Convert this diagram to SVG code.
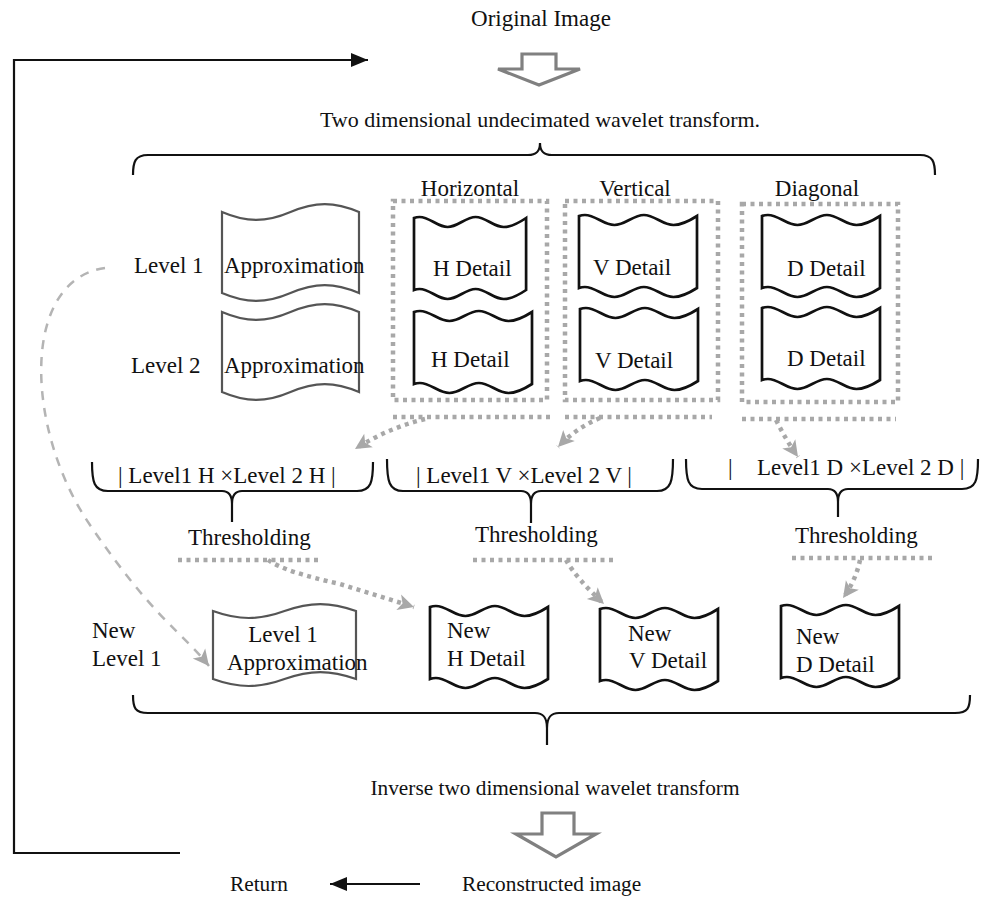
<svg xmlns="http://www.w3.org/2000/svg" xmlns:xlink="http://www.w3.org/1999/xlink" width="998" height="902" viewBox="0 0 998 902">
<style>
text{font-family:"Liberation Serif","Times New Roman",serif;font-size:23px;fill:#111}
.mid{text-anchor:middle}
.sm{font-size:22px}
.xs{font-size:21.3px}
.blk{fill:none;stroke:#111;stroke-width:2.2}
.doc{fill:#fff;stroke:#111;stroke-width:2.7}
.tape{fill:#fff;stroke:#555;stroke-width:2.2}
.dot{fill:none;stroke:#a8a8a8;stroke-width:4.5;stroke-dasharray:4 4.5}
.dash{fill:none;stroke:#b4b4b4;stroke-width:2.5;stroke-dasharray:9 8}
.hollow{fill:#fff;stroke:#808080;stroke-width:3.2;stroke-linejoin:miter}
</style>
<defs>
<path id="doc" vector-effect="non-scaling-stroke" d="M0,-4 C2,-4.7 4,-5 5.9,-5 C16.6,-5 24.7,5 35.4,5 C46.1,5 54.2,-5 64.9,-5 C75.6,-5 83.7,5 94.4,5 C103,5 111,0.5 118,-4 L118,68 C111,72.5 103,77 94.4,77 C83.7,77 75.6,67 64.9,67 C54.2,67 46.1,77 35.4,77 C24.7,77 16.6,67 5.9,67 C4,67 2,67.3 0,68 Z"/>
<marker id="ga" markerUnits="userSpaceOnUse" markerWidth="20" markerHeight="20" viewBox="0 0 20 20" refX="18" refY="10" orient="auto">
<path d="M2,2 L18,10 L2,18 L6,10 Z" fill="#a8a8a8"/>
</marker>
<marker id="ba" markerUnits="userSpaceOnUse" markerWidth="18" markerHeight="16" viewBox="0 0 18 16" refX="17" refY="8" orient="auto">
<path d="M0,1 L17,8 L0,15 Z" fill="#111"/>
</marker>
</defs>

<g id="connectors">
<!-- loop back -->
<path class="blk" d="M180,853 L14,853 L14,60 L368,60" marker-end="url(#ba)"/>
<path class="blk" d="M420,884 L330,884" marker-end="url(#ba)"/>
<!-- hollow arrows -->
<path class="hollow" d="M522,54 L556,54 L556,69 L580,69 L539,85 L498,69 L522,69 Z"/>
<path class="hollow" d="M542,813 L574,813 L574,834 L596,834 L556,857 L516,834 L542,834 Z"/>
<!-- top brace -->
<path class="blk" d="M133,175 C133,162 135,155 148,155 L528,155 C536,155 540,152 540,143 C540,152 544,155 552,155 L920,155 C933,155 935,162 935,175"/>
<!-- bottom brace -->
<path class="blk" d="M133,695 C133,708 135,713 148,713 L535,713 C543,713 547,717 547,728 L547,745 M547,728 C547,717 551,713 559,713 L955,713 C968,713 970,708 970,695"/>
<!-- level braces -->
<path class="blk" d="M92,462 C92,482 94,491 108,491 L222,491 C229,491 232,495 232,504 L232,522 M232,504 C232,495 235,491 242,491 L357,491 C371,491 373,482 373,462"/>
<path class="blk" d="M387,459 C387,481 389,491 403,491 L521,491 C528,491 531,495 531,504 L531,523 M531,504 C531,495 534,491 541,491 L657,491 C671,491 673,481 673,459"/>
<path class="blk" d="M686,459 C686,480 688,489 702,489 L828,489 C835,489 838,493 838,502 L838,517 M838,502 C838,493 841,489 848,489 L962,489 C976,489 978,480 978,459"/>
<!-- dotted group boxes -->
<rect class="dot" x="393" y="201" width="154" height="199"/>
<rect class="dot" x="565" y="201" width="153" height="199"/>
<rect class="dot" x="742" y="204" width="156" height="198"/>
<path class="dot" d="M393,417 L550,417 M565,417 L712,417 M742,419 L896,419"/>
<!-- thresholding lines -->
<path class="dot" d="M178,560 L320,560 M473,560 L613,560 M792,558 L933,558"/>
<!-- gray dotted arrows -->
<path class="dot" d="M425,419 Q388,428 355,449" marker-end="url(#ga)"/>
<path class="dot" d="M600,418 Q576,428 558,447" marker-end="url(#ga)"/>
<path class="dot" d="M776,420 Q786,440 798,457" marker-end="url(#ga)"/>
<path class="dot" d="M268,560 Q285,572 340,584 L414,607" marker-end="url(#ga)"/>
<path class="dot" d="M566,560 Q576,578 604,604" marker-end="url(#ga)"/>
<path class="dot" d="M860,560 Q856,580 843,598" marker-end="url(#ga)"/>
<!-- dashed curve -->
<path class="dash" d="M105,268 C20,280 25,430 90,525 S180,630 209,666" marker-end="url(#ga)"/>
</g>

<g id="title-top">
<text class="mid" x="541" y="26">Original Image</text>
<text class="mid sm" x="540" y="127">Two dimensional undecimated wavelet transform.</text>
</g>
<g id="col-labels">
<text class="mid" x="470" y="196">Horizontal</text>
<text class="mid" x="635" y="196">Vertical</text>
<text class="mid" x="817" y="196">Diagonal</text>
</g>
<g id="row-labels">
<text x="134" y="273">Level 1</text>
<text x="131" y="373">Level 2</text>
<text x="92" y="638">New</text>
<text x="92" y="666">Level 1</text>
</g>

<g id="approx1">
<path class="tape" d="M222,212 C246.7,222.6 265.8,222.6 290.5,212 C315.2,201.4 334.3,201.4 359,212 L359,293 C334.3,282.4 315.2,282.4 290.5,293 C265.8,303.6 246.7,303.6 222,293 Z"/>
<text x="224" y="273">Approximation</text>
</g>
<g id="approx2">
<path class="tape" d="M222,312 C246.7,322.6 265.8,322.6 290.5,312 C315.2,301.4 334.3,301.4 359,312 L359,392 C334.3,381.4 315.2,381.4 290.5,392 C265.8,402.6 246.7,402.6 222,392 Z"/>
<text x="224" y="373">Approximation</text>
</g>
<g id="h1"><use xlink:href="#doc" class="doc" transform="translate(414,222) scale(0.95,1)"/><text x="433" y="276">H Detail</text></g>
<g id="h2"><use xlink:href="#doc" class="doc" transform="translate(414,316)"/><text x="431" y="367">H Detail</text></g>
<g id="v1"><use xlink:href="#doc" class="doc" transform="translate(579,220)"/><text x="593" y="275">V Detail</text></g>
<g id="v2"><use xlink:href="#doc" class="doc" transform="translate(580,313)"/><text x="595" y="368">V Detail</text></g>
<g id="d1"><use xlink:href="#doc" class="doc" transform="translate(762,220)"/><text x="787" y="276">D Detail</text></g>
<g id="d2"><use xlink:href="#doc" class="doc" transform="translate(762,312)"/><text x="787" y="366">D Detail</text></g>

<g id="prod-h"><text x="118" y="483">| Level1 H ×Level 2 H |</text></g>
<g id="prod-v"><text x="416" y="483">| Level1 V ×Level 2 V |</text></g>
<g id="prod-d"><text y="475"><tspan x="728">|</tspan><tspan x="757">Level1 D ×Level 2 D |</tspan></text></g>
<g id="thr-h"><text x="188" y="545">Thresholding</text></g>
<g id="thr-v"><text x="475" y="542">Thresholding</text></g>
<g id="thr-d"><text x="795" y="543">Thresholding</text></g>

<g id="new-approx">
<path class="tape" d="M213,611 C238.7,620.3 258.8,620.3 284.5,611 C310.2,601.7 330.3,601.7 356,611 L356,679 C330.3,669.7 310.2,669.7 284.5,679 C258.8,688.3 238.7,688.3 213,679 Z"/>
<text class="mid" x="283" y="642">Level 1</text>
<text x="227" y="670">Approximation</text>
</g>
<g id="new-h"><use xlink:href="#doc" class="doc" transform="translate(430,611)"/><text x="447" y="638">New</text><text x="447" y="666">H Detail</text></g>
<g id="new-v"><use xlink:href="#doc" class="doc" transform="translate(600,613)"/><text x="628" y="641">New</text><text x="629" y="668">V Detail</text></g>
<g id="new-d"><use xlink:href="#doc" class="doc" transform="translate(781,610)"/><text x="796" y="644">New</text><text x="796" y="672">D Detail</text></g>

<g id="bottom-labels">
<text class="mid xs" x="555" y="795">Inverse two dimensional wavelet transform</text>
<text class="xs" x="462" y="891">Reconstructed image</text>
<text class="xs" x="230" y="891">Return</text>
</g>
</svg>
